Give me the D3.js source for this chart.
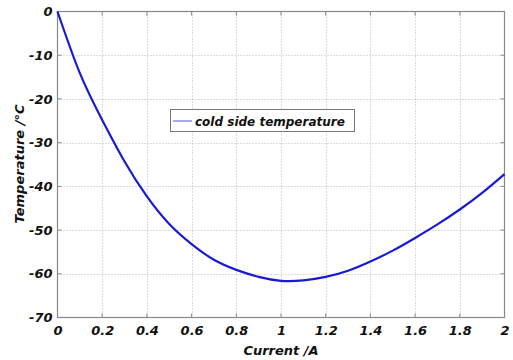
<!DOCTYPE html>
<html><head><meta charset="utf-8">
<script src="https://cdn.jsdelivr.net/npm/d3@7"></script>
<style>body{margin:0;background:#fff}svg{display:block}</style>
</head><body>
<svg id="c" width="513" height="360"></svg>
<script>
const current = [0,0.1,0.2,0.3,0.4,0.5,0.6,0.7,0.8,0.9,1.0,1.1,1.2,1.3,1.4,1.5,1.6,1.7,1.8,1.9,2.0];
const temperature = [0,-14.1,-24.8,-34.3,-42.3,-48.6,-53.2,-56.8,-59.1,-60.7,-61.6,-61.5,-60.7,-59.3,-57.2,-54.7,-51.8,-48.7,-45.3,-41.5,-37.2];
const xTicks = [0,0.2,0.4,0.6,0.8,1,1.2,1.4,1.6,1.8,2];
const yTicks = [0,-10,-20,-30,-40,-50,-60,-70];
const seriesName = "cold side temperature";
const xTitle = "Current /A";
const yTitle = "Temperature /°C";

const svg = d3.select("#c");
const L=57.5,R=504.5,T=11.5,B=317.5;
const x = d3.scaleLinear().domain([0,2]).range([L,R]);
const y = d3.scaleLinear().domain([-70,0]).range([B,T]);
const font = "DejaVu Sans, Verdana, sans-serif";

// gridlines
svg.append("g").selectAll("line").data(xTicks.slice(1,-1)).join("line")
  .attr("x1",d=>Math.round(x(d))+0.5).attr("x2",d=>Math.round(x(d))+0.5)
  .attr("y1",T).attr("y2",B).attr("stroke","#bbb").attr("stroke-dasharray","1,2");
svg.append("g").selectAll("line").data(yTicks.slice(1,-1)).join("line")
  .attr("y1",d=>Math.round(y(d))+0.5).attr("y2",d=>Math.round(y(d))+0.5)
  .attr("x1",L).attr("x2",R).attr("stroke","#bbb").attr("stroke-dasharray","1,2");

// axes
const xAxis = svg.append("g").attr("transform",`translate(0,${B})`)
  .call(d3.axisBottom(x).tickValues(xTicks).tickSize(0).tickPadding(8).tickFormat(d=>String(d)));
const yAxis = svg.append("g").attr("transform",`translate(${L},0)`)
  .call(d3.axisLeft(y).tickValues(yTicks).tickSize(0).tickPadding(5).tickFormat(d=>String(d)));
[xAxis,yAxis].forEach(g=>{
  g.select(".domain").remove();
  g.selectAll("text").attr("font-family",font).attr("font-size",13)
   .attr("font-weight","bold").attr("font-style","italic").attr("fill","#111");
});
// small tick marks
svg.append("g").selectAll("line").data(xTicks).join("line")
  .attr("x1",d=>x(d)).attr("x2",d=>x(d)).attr("y1",B).attr("y2",B-4).attr("stroke","#888");
svg.append("g").selectAll("line").data(xTicks).join("line")
  .attr("x1",d=>x(d)).attr("x2",d=>x(d)).attr("y1",T).attr("y2",T+4).attr("stroke","#888");
svg.append("g").selectAll("line").data(yTicks).join("line")
  .attr("y1",d=>y(d)).attr("y2",d=>y(d)).attr("x1",L).attr("x2",L+4).attr("stroke","#888");
svg.append("g").selectAll("line").data(yTicks).join("line")
  .attr("y1",d=>y(d)).attr("y2",d=>y(d)).attr("x1",R).attr("x2",R-4).attr("stroke","#888");

// frame
svg.append("rect").attr("x",L).attr("y",T).attr("width",R-L).attr("height",B-T)
  .attr("fill","none").attr("stroke","#888").attr("stroke-width",1.2);

// curve
const data = current.map((c,i)=>({c,t:temperature[i]}));
svg.append("path").datum(data)
  .attr("d",d3.line().x(d=>x(d.c)).y(d=>y(d.t)).curve(d3.curveNatural))
  .attr("fill","none").attr("stroke","#1a1ad6").attr("stroke-width",2.2);

// legend
const lg = svg.append("g");
lg.append("rect").attr("x",170.5).attr("y",109.5).attr("width",184).attr("height",22)
  .attr("fill","#fff").attr("stroke","#777").attr("stroke-width",1);
lg.append("line").attr("x1",173).attr("x2",192).attr("y1",121).attr("y2",121)
  .attr("stroke","#8c8cf5").attr("stroke-width",1.5);
lg.append("text").attr("x",195).attr("y",125.5).text(seriesName)
  .attr("font-family",font).attr("font-size",12).attr("font-weight","bold")
  .attr("font-style","italic").attr("fill","#111");

// titles
svg.append("text").attr("x",281).attr("y",355).attr("text-anchor","middle").text(xTitle)
  .attr("font-family",font).attr("font-size",13).attr("font-weight","bold")
  .attr("font-style","italic").attr("fill","#111");
svg.append("text").attr("transform","translate(24,164) rotate(-90)").attr("text-anchor","middle").text(yTitle)
  .attr("font-family",font).attr("font-size",13).attr("font-weight","bold")
  .attr("font-style","italic").attr("fill","#111");
</script>
</body></html>
